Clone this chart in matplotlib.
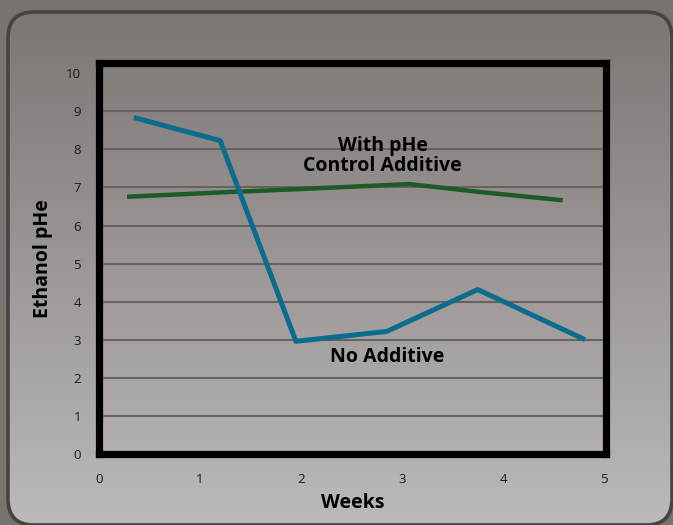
import matplotlib.pyplot as plt
import numpy as np
from matplotlib.patches import FancyBboxPatch

# data
weeks_no_add = [0.37, 1.2, 1.95, 2.85, 3.75, 4.79]
ph_no_add = [8.82, 8.23, 2.96, 3.22, 4.32, 3.03]
weeks_with = [0.3, 1.2, 2.0, 3.07, 3.78, 4.57]
ph_with = [6.76, 6.87, 6.96, 7.09, 6.88, 6.67]
x_ticks = [0, 1, 2, 3, 4, 5]
y_ticks = [0, 1, 2, 3, 4, 5, 6, 7, 8, 9, 10]

W, H = 673, 525
fig = plt.figure(figsize=(W / 100, H / 100), dpi=100)
fig.patch.set_facecolor('#78736f')

# background panel with vertical gradient and rounded corners
bg = fig.add_axes([0, 0, 1, 1])
bg.set_xlim(0, W)
bg.set_ylim(H, 0)
bg.axis('off')
top_c = np.array([0x7a, 0x75, 0x71]) / 255
bot_c = np.array([0xbd, 0xb9, 0xba]) / 255
t = np.linspace(0, 1, 256)[:, None]
grad = (top_c * (1 - t) + bot_c * t)[:, None, :]
grad = np.repeat(grad, 2, axis=1)
im = bg.imshow(grad, extent=[0, W, H, 0], aspect='auto', zorder=0)
panel = FancyBboxPatch((8, 12), 664, 513, boxstyle='round,pad=0,rounding_size=26',
                       facecolor='none', edgecolor='#454443', linewidth=2.6, zorder=2)
bg.add_patch(panel)
im.set_clip_path(panel)

# main chart
ax = fig.add_axes([99 / W, 1 - 454 / H, (606 - 99) / W, (454 - 63) / H])
ax.patch.set_alpha(0)
ax.set_xlim(0, 5.02)
ax.set_ylim(0, 10.27)

for y in y_ticks[1:-1]:
    ax.axhline(y, color='#666461', linewidth=1.5, zorder=1)

ax.plot(weeks_with, ph_with, color='#1d5a28', linewidth=3.2, zorder=3)
ax.plot(weeks_no_add, ph_no_add, color='#0b6c8d', linewidth=3.6, zorder=3)

for s in ax.spines.values():
    s.set_linewidth(5.2)
    s.set_color('black')

ax.set_xticks(x_ticks)
ax.set_yticks(y_ticks)
ax.tick_params(length=0, labelsize=9.5, colors='#1a1a1a')
for lab in ax.get_xticklabels() + ax.get_yticklabels():
    lab.set_fontfamily('Open Sans')
ax.tick_params(axis='x', pad=14)
ax.tick_params(axis='y', pad=13)

ax.set_xlabel('Weeks', fontsize=14, fontweight='bold', family='Open Sans', labelpad=5)
ax.set_ylabel('Ethanol pHe', fontsize=14, fontweight='bold', family='Open Sans', labelpad=9)

ax.text(2.81, 7.83, 'With pHe\nControl Additive', ha='center', va='center',
        fontsize=14, fontweight='bold', family='Open Sans', linespacing=1.05)
ax.text(2.85, 2.55, 'No Additive', ha='center', va='center',
        fontsize=14, fontweight='bold', family='Open Sans')

fig.savefig('out.png', dpi=100, facecolor=fig.get_facecolor())
